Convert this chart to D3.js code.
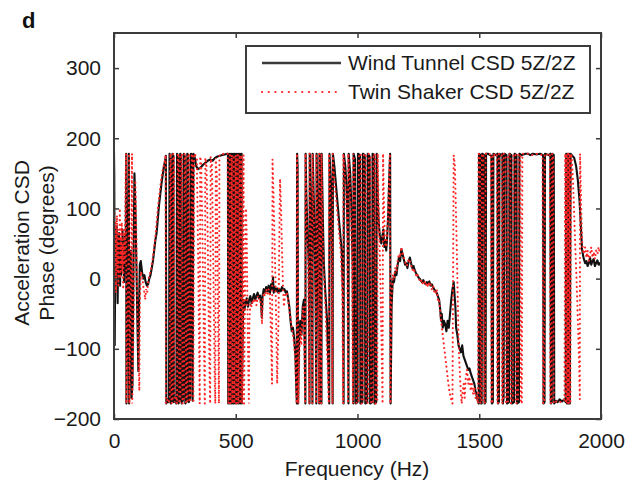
<!DOCTYPE html>
<html><head><meta charset="utf-8">
<script src="https://cdn.jsdelivr.net/npm/d3@7"></script>
<style>
html,body{margin:0;padding:0;background:#fff;}
svg{display:block;font-family:"Liberation Sans",Arial,Helvetica,sans-serif;}
</style></head>
<body>
<svg id="chart" width="641" height="490"></svg>
<script>
// ---------------- data ----------------
const xTicks = [0, 500, 1000, 1500, 2000];
const yTicks = [-200, -100, 0, 100, 200, 300];
const seriesNames = ["Wind Tunnel CSD 5Z/2Z", "Twin Shaker CSD 5Z/2Z"];

// [frequency Hz, phase deg]
const windTunnel = [
[0,180],[1,150],[3,-95],[5,20],[7,60],[9,10],[11,75],[13,30],[15,-35],[17,40],[19,15],[21,65],[23,25],[25,-10],[27,45],[29,5],[31,55],[33,30],[35,70],[37,20],[39,40],[41,-5],[43,35],[45,60],
[48,40],[50,178],[51,-178],[55,-40],[58,60],[61,178],[62,-178],[66,-60],[70,40],[72,-170],[76,-150],[80,20],[84,150],[88,100],[92,20],[96,-60],[100,-132],[103,-40],[106,20],
[110,25],[115,10],[120,0],[125,5],[130,-5],[135,-10],[140,-8],[145,0],[150,5],[155,15],[160,25],[165,40],[170,55],[175,65],[180,85],[185,105],[190,120],[195,135],[200,148],[205,160],[210,168],[213,175],
[215,-178],[219,-172],[223,-176],[226,-170],[228,178],[231,172],[233,-178],[238,-174],[240,178],[244,175],[246,-176],[252,-170],[256,-178],[259,178],[263,174],[265,-178],[270,-172],[272,178],[276,176],[278,-178],[284,-172],[287,178],[291,174],[293,-178],[298,-175],[301,178],[305,176],[307,-176],[313,-170],[316,178],[320,176],[323,-174],[326,178],
[332,172],[338,160],[345,156],[355,158],[365,162],[375,165],[385,168],[395,170],[405,168],[415,172],[425,174],[435,175],[445,176],[455,177],[465,178],
[468,178],[469,-178],[472,-90],[475,178],[476,-178],[479,-60],[482,178],[483,-178],[486,-40],[489,178],[490,-178],[493,-30],[496,178],[497,-178],[500,-50],[503,178],[504,-178],[507,-60],[510,178],[511,-178],[514,-70],[517,178],[518,-178],[521,-80],[524,178],[525,-178],[528,-100],
[531,-30],[535,-45],[540,-35],[545,-28],[550,-40],[555,-30],[560,-25],[565,-35],[570,-28],[575,-22],[580,-30],[585,-25],[590,-20],[595,-28],[600,-24],[604,-35],[607,-55],[610,-25],[615,-15],[620,-20],[625,-12],[630,-18],[635,-10],[640,-22],[645,-8],[650,-15],[653,2],[656,-20],[660,-12],[665,-18],[670,-14],[675,-20],[680,-15],[685,-18],[690,-12],[695,-16],[700,-15],[705,-20],[710,-18],[715,-28],[720,-40],[725,-60],[730,-75],[735,-70],[740,-85],
[745,-110],[749,-160],[751,-178],[752,178],[754,160],[756,-178],[760,-90],[765,-60],[770,-80],[775,-40],[780,-30],[783,-90],[786,-178],[787,178],[790,120],[795,60],[800,20],[803,-178],[804,178],[808,100],[812,40],[815,-178],[816,178],[820,120],[824,60],[828,-30],[831,-178],[832,178],[836,100],[840,-20],[843,-178],[844,178],[848,60],[852,-178],[853,178],[858,80],[862,20],[868,-20],[875,-60],[880,-120],[884,-178],[885,178],[890,140],[895,40],[898,-178],[899,178],[905,160],[915,120],[925,80],[935,40],[940,-20],[943,-178],[944,178],[950,160],[955,130],[960,60],[963,-178],[964,178],[970,150],[975,100],[980,20],[983,-178],[984,178],[990,170],
[993,-178],[1000,-176],[1002,178],[1010,176],[1012,-178],[1020,-176],[1022,178],[1030,176],[1032,-178],[1040,-176],[1042,178],[1050,174],[1052,-178],[1060,-176],[1062,178],[1068,176],[1070,-178],[1077,-176],[1079,178],[1083,120],[1087,80],[1092,60],[1098,50],[1102,60],[1106,70],[1110,45],[1114,55],[1118,40],[1122,60],[1126,90],[1130,140],[1134,178],[1136,-178],[1140,-40],
[1145,0],[1150,-5],[1155,10],[1160,5],[1165,20],[1170,30],[1175,25],[1180,42],[1185,35],[1190,28],[1195,20],[1200,22],[1205,15],[1210,25],[1215,30],[1220,22],[1225,15],[1230,18],[1235,12],[1240,8],[1245,5],[1250,2],[1255,0],[1260,-3],[1265,-5],[1270,-2],[1275,-6],[1280,-8],[1285,-5],[1290,-7],[1295,-4],[1300,-10],[1305,-8],[1310,-12],[1315,-15],[1320,-18],[1325,-20],[1330,-25],[1335,-30],[1340,-45],[1343,-60],[1346,-50],[1350,-70],[1355,-60],[1360,-65],[1365,-75],[1370,-60],[1375,-70],[1380,-50],[1385,-30],[1390,-15],[1395,-5],[1398,-20],[1402,-40],[1405,-70],[1410,-80],[1415,-95],[1420,-100],[1425,-105],[1430,-95],[1435,-110],[1440,-115],[1445,-120],[1450,-125],[1455,-130],[1460,-128],[1465,-135],[1470,-140],[1475,-145],[1480,-150],[1485,-160],[1490,-168],[1495,-175],[1498,-178],
[1499,178],[1505,176],[1507,-178],[1510,-178],[1512,178],[1520,176],[1522,-178],[1526,-176],[1528,178],[1535,178],[1550,175],[1552,-178],[1556,-176],[1558,178],[1568,176],[1575,178],[1577,-178],[1581,-175],[1583,178],[1590,176],[1595,178],[1597,-178],[1600,-170],[1603,178],[1612,176],[1614,-178],[1622,-176],[1624,178],[1632,176],[1634,-178],[1643,-176],[1645,178],[1653,176],[1655,-178],[1663,-176],[1665,178],[1675,176],[1690,178],[1700,178],[1710,176],[1720,178],[1735,177],[1750,178],[1762,176],[1764,-178],[1768,-176],[1770,178],[1785,176],[1792,178],[1794,-178],[1798,-176],[1800,178],[1806,176],[1808,-178],[1815,-174],[1822,-176],[1830,-172],[1840,-175],[1850,-172],[1855,-176],[1857,178],[1860,-178],[1863,178],[1866,-178],[1869,178],[1872,-178],[1875,178],
[1880,176],[1890,172],[1898,160],[1905,140],[1912,110],[1918,70],[1922,42],[1928,30],[1935,22],[1940,25],[1945,18],[1950,22],[1955,30],[1960,20],[1965,25],[1970,28],[1975,18],[1980,22],[1985,26],[1990,20],[1995,22],[2000,18]
];

const twinShaker = [
[0,60],[2,100],[4,20],[6,80],[8,-20],[10,40],[12,90],[14,10],[16,50],[18,-10],[20,70],[22,30],[24,100],[26,0],[28,60],[30,20],[32,80],[34,10],[36,50],[38,-15],[40,30],[42,70],[44,20],[46,90],[48,150],[50,178],[51,-178],[56,-60],[60,50],[62,178],[63,-178],[68,-40],[72,100],[74,178],[75,-178],[80,-80],[84,60],[88,140],[92,60],[96,-40],[100,-110],[104,-160],[106,-40],
[110,10],[115,5],[120,-10],[125,-20],[128,-30],[132,-15],[136,-20],[140,-5],[145,5],[150,10],[155,20],[160,30],[165,45],[170,60],[175,80],[180,100],[185,115],[190,130],[195,145],[200,155],[205,162],[210,170],[212,176],
[213,-178],[220,-172],[225,-176],[229,-170],[231,178],[234,172],[236,-178],[241,-174],[243,178],[247,175],[249,-176],[255,-170],[259,-178],[262,178],[266,174],[268,-178],[273,-172],[275,178],[279,176],[281,-178],[287,-172],[290,178],[294,174],[296,-178],[301,-175],[304,178],[308,176],[310,-176],[316,-170],[319,178],[323,176],[326,-174],[329,178],[334,176],
[340,170],[343,100],[346,20],[349,-80],[352,-178],[354,174],[358,165],[362,90],[366,-10],[370,-110],[373,-178],[375,172],[380,160],[384,80],[388,-30],[392,-130],[395,-178],[397,174],[402,162],[406,70],[410,-40],[414,-150],[416,-178],[418,172],[422,150],[425,40],[428,-80],[431,-178],[433,176],[440,176],[450,178],[460,177],
[467,178],[470,-178],[473,-60],[476,176],[478,-178],[481,-50],[484,176],[486,-178],[489,-40],[492,176],[494,-178],[497,-40],[500,176],[502,-178],[505,-60],[508,176],[510,-178],[513,-70],[516,176],[518,-178],[521,-80],[524,176],[526,-178],[529,-60],[532,176],[534,-178],[538,-20],[542,100],[545,60],[548,-40],[551,-120],[554,-178],[556,-60],
[560,-35],[565,-40],[570,-30],[575,-35],[580,-28],[585,-38],[590,-25],[595,-30],[600,-28],[605,-45],[608,-65],[611,-30],[615,-20],[620,-25],[625,-15],[630,-22],[635,-15],[640,-22],[643,-60],[646,-100],[649,-150],[651,170],[655,120],[659,60],[663,0],[667,-80],[670,-150],[672,-120],[676,-50],[679,60],[682,142],[686,100],[690,40],[694,-10],[698,-40],[702,-25],
[706,-20],[710,-20],[715,-30],[720,-45],[725,-55],[730,-70],[735,-80],[740,-95],[745,-120],[748,-160],[750,-178],[751,178],[754,150],[757,-178],[761,-110],[765,-70],[769,-95],[773,-60],[777,-40],[781,-100],[785,-178],[786,178],[790,110],[794,50],[798,0],[802,-178],[803,178],[807,90],[811,30],[814,-178],[815,178],[819,110],[823,50],[827,-40],[830,-178],[831,178],[835,90],[839,-30],[842,-178],[843,178],[847,50],[851,-178],[852,178],[857,70],[861,10],[867,-30],[872,-80],[878,-130],[882,-178],[883,178],[888,130],[893,30],[897,-178],[898,178],[903,150],[912,115],[922,75],[932,35],[938,-30],[941,-178],[942,178],[948,150],[953,120],[958,50],[961,-178],[962,178],[968,140],[973,90],[978,10],[981,-178],[982,178],[988,160],
[996,-178],[1004,-176],[1006,178],[1014,176],[1016,-178],[1024,-176],[1026,178],[1034,176],[1036,-178],[1044,-176],[1046,178],[1054,174],[1056,-178],[1064,-176],[1066,178],[1072,176],[1074,-178],[1081,-176],[1083,178],[1087,100],[1091,40],[1095,-20],[1099,-100],[1103,-178],[1105,178],[1109,100],[1113,50],[1118,45],[1122,65],[1126,100],[1130,150],[1133,178],[1135,-178],[1140,-30],
[1145,5],[1150,0],[1155,15],[1160,10],[1165,25],[1170,35],[1175,30],[1180,45],[1185,38],[1190,30],[1195,25],[1200,18],[1205,20],[1210,28],[1215,25],[1220,20],[1225,12],[1230,15],[1235,10],[1240,5],[1245,8],[1250,0],[1255,-2],[1260,0],[1265,-8],[1270,-5],[1275,-3],[1280,-10],[1285,-6],[1290,-12],[1295,-5],[1300,-8],[1305,-15],[1310,-10],[1315,-18],[1320,-22],[1325,-15],[1330,-30],[1335,-28],[1340,-50],[1345,-65],[1350,-80],[1355,-95],[1360,-110],[1365,-125],[1370,-140],[1375,-155],[1380,-165],[1385,-172],[1390,-178],
[1395,176],[1400,160],[1404,100],[1407,56],[1411,-15],[1414,-70],[1417,-110],[1421,-140],[1425,-165],[1428,-178],[1432,-160],[1436,-150],[1440,-170],[1445,-140],[1450,-130],[1455,-150],[1460,-140],[1465,-160],[1470,-150],[1475,-165],[1480,-155],[1485,-170],[1490,-165],[1495,-178],
[1497,178],[1503,176],[1505,-178],[1509,-176],[1511,178],[1517,176],[1519,-178],[1524,-176],[1526,178],[1540,176],[1548,178],[1550,-178],[1554,-176],[1556,178],[1565,176],[1572,178],[1574,-178],[1579,-176],[1581,178],[1592,178],[1594,-178],[1598,-170],[1600,178],[1608,176],[1610,-178],[1618,-176],[1620,178],[1628,176],[1630,-178],[1638,-176],[1640,178],[1649,176],[1651,-178],[1659,-176],[1661,178],[1669,176],[1671,-178],[1675,-176],[1677,178],[1700,178],[1720,176],[1740,178],[1760,176],[1762,-178],[1767,-176],[1769,178],[1785,176],[1790,178],[1792,-178],[1797,-176],[1799,178],[1804,176],[1806,-178],[1820,-174],[1835,-176],[1850,-172],[1853,178],[1856,-178],[1859,178],[1862,-178],[1865,178],[1868,-178],[1871,178],[1874,-178],[1877,178],
[1880,170],[1885,140],[1890,90],[1895,40],[1900,-5],[1905,-60],[1910,-120],[1913,-172],[1914,178],[1917,130],[1920,80],[1923,50],[1928,35],[1935,45],[1940,30],[1945,40],[1950,25],[1955,35],[1960,45],[1965,30],[1970,38],[1975,28],[1980,40],[1985,35],[1990,45],[1995,38],[2000,40]
];

// ---------------- drawing ----------------
const svg = d3.select("#chart");
const W = 641, H = 490;
const L = 114, R = 601, T = 33, B = 419;
const x = d3.scaleLinear().domain([0, 2000]).range([L, R]);
const y = d3.scaleLinear().domain([-200, 350]).range([B, T]);
const FONT = 21;
const TXT = "#1a1a1a";
const FRAME = "#3c3c3c";

svg.append("rect").attr("width", W).attr("height", H).attr("fill", "#fff");

svg.append("defs").append("clipPath").attr("id", "plotclip")
  .append("rect").attr("x", L).attr("y", T).attr("width", R - L).attr("height", B - T);

const line = d3.line().x(d => x(d[0])).y(d => y(d[1]));
const plot = svg.append("g").attr("clip-path", "url(#plotclip)");

plot.append("path").datum(windTunnel).attr("d", line)
  .attr("fill", "none").attr("stroke", "#111").attr("stroke-width", 2.1)
  .attr("stroke-linejoin", "round");
plot.append("path").datum(twinShaker).attr("d", line)
  .attr("fill", "none").attr("stroke", "#ff2626").attr("stroke-width", 2.1)
  .attr("stroke-linecap", "round").attr("stroke-dasharray", "0.1,4.6");

// axes
function styleAxis(g, showText) {
  g.select(".domain").remove();
  g.selectAll(".tick line").attr("stroke", FRAME).attr("stroke-width", 1.5);
  g.selectAll(".tick text").attr("fill", TXT).style("font-size", FONT + "px")
    .style("font-family", "'Liberation Sans',Arial,Helvetica,sans-serif");
  if (!showText) g.selectAll(".tick text").remove();
}
svg.append("g").attr("transform", `translate(0,${B})`)
  .call(d3.axisBottom(x).tickValues(xTicks).tickSize(-5).tickPadding(14).tickFormat(d3.format("d")))
  .call(g => styleAxis(g, true));
svg.append("g").attr("transform", `translate(0,${T})`)
  .call(d3.axisTop(x).tickValues(xTicks).tickSize(-5))
  .call(g => styleAxis(g, false));
svg.append("g").attr("transform", `translate(${L},0)`)
  .call(d3.axisLeft(y).tickValues(yTicks).tickSize(-5).tickPadding(13).tickFormat(d => d < 0 ? "\u2212" + Math.abs(d) : d))
  .call(g => styleAxis(g, true));
svg.append("g").attr("transform", `translate(${R},0)`)
  .call(d3.axisRight(y).tickValues(yTicks).tickSize(-5))
  .call(g => styleAxis(g, false));

// frame
svg.append("rect").attr("x", L).attr("y", T).attr("width", R - L).attr("height", B - T)
  .attr("fill", "none").attr("stroke", FRAME).attr("stroke-width", 2);

// legend
const lg = svg.append("g");
lg.append("rect").attr("x", 246).attr("y", 46).attr("width", 344).attr("height", 67)
  .attr("fill", "#fff").attr("stroke", FRAME).attr("stroke-width", 2);
lg.append("line").attr("x1", 262).attr("x2", 341).attr("y1", 63).attr("y2", 63)
  .attr("stroke", "#3a3a3a").attr("stroke-width", 2.4);
lg.append("line").attr("x1", 262).attr("x2", 341).attr("y1", 92).attr("y2", 92)
  .attr("stroke", "#ff2626").attr("stroke-width", 2.2).attr("stroke-linecap", "round").attr("stroke-dasharray", "0.1,6.6");
lg.selectAll("text.lab").data(seriesNames).join("text").attr("class", "lab")
  .attr("x", 348).attr("y", (d, i) => 70 + i * 29)
  .attr("fill", TXT).style("font-size", FONT + "px").text(d => d);

// axis labels
svg.append("text").attr("x", 357).attr("y", 476).attr("text-anchor", "middle")
  .attr("fill", TXT).style("font-size", FONT + "px").text("Frequency (Hz)");
const yl = svg.append("text").attr("transform", "translate(0,243) rotate(-90)")
  .attr("text-anchor", "middle").attr("fill", TXT).style("font-size", FONT + "px");
yl.append("tspan").attr("x", 0).attr("y", 29).text("Acceleration CSD");
yl.append("tspan").attr("x", 0).attr("y", 54).text("Phase (degrees)");

// panel letter
svg.append("text").attr("x", 22).attr("y", 28).attr("fill", "#111")
  .style("font-size", "22px").style("font-weight", "bold").text("d");
</script>
</body></html>
